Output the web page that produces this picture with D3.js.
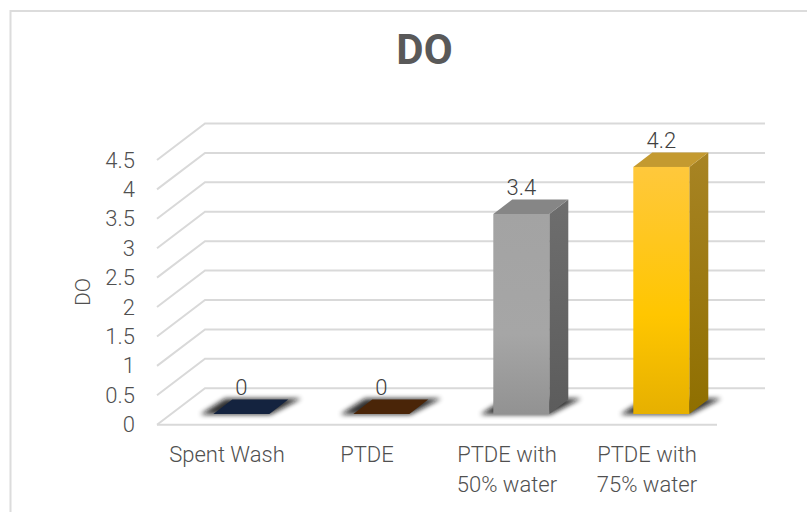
<!DOCTYPE html>
<html>
<head>
<meta charset="utf-8">
<script src="https://cdnjs.cloudflare.com/ajax/libs/d3/7.8.5/d3.min.js"></script>
<style>
    html, body { margin: 0; padding: 0; background: #fff; }
    svg { display: block; }
    text { font-family: Roboto, "Open Sans", sans-serif; font-weight: 300; fill: #505050; }
</style>
</head>
<body>
<svg id="chart" width="807" height="512"></svg>
<script>
const categories = [['Spent Wash'], ['PTDE'], ['PTDE with', '50% water'], ['PTDE with', '75% water']];
const values = [0, 0, 3.4, 4.2];
const yTicks = [0, 0.5, 1, 1.5, 2, 2.5, 3, 3.5, 4, 4.5];
const faceColors = [
    {front: ['#14233f', '#14233f'], side: ['#0e1a30', '#0e1a30'], top: '#14233f'},
    {front: ['#4a2508', '#4a2508'], side: ['#361a05', '#361a05'], top: '#4a2508'},
    {front: ['#a3a3a3', '#a6a6a6', '#929292'], side: ['#6e6e6e', '#5c5c5c'], top: '#868686'},
    {front: ['#ffc83c', '#ffc600', '#e6b000'], side: ['#a88424', '#8f6f00'], top: '#c49a30'}
];

const svg = d3.select('#chart');
const defs = svg.append('defs');

// chart frame
svg.append('path')
    .attr('d', 'M10.5,512V11H807')
    .attr('fill', 'none')
    .attr('stroke', '#dcdcdc')
    .attr('stroke-width', 2);

svg.append('text')
    .attr('x', 424.5)
    .attr('y', 63.5)
    .attr('text-anchor', 'middle')
    .style('font-size', '42px')
    .style('font-weight', 'bold')
    .style('fill', '#595959')
    .text('DO');

// 3d box geometry
const wallDx = 48, wallDy = 36.5;
const barDx = 19, barDy = 14.5;
const barShiftX = 14.3, barShiftY = 10.7;

const x = d3.scaleBand()
    .domain(d3.range(categories.length))
    .range([157, 717])
    .paddingInner(0.6)
    .paddingOuter(0.3);

const y = d3.scaleLinear()
    .domain([0, 4.5])
    .range([424.7, 160]);

// floor and walls
const grid = svg.append('g');
yTicks.forEach(t => {
    grid.append('polyline')
        .attr('points', [
            [x.range()[0], y(t)],
            [x.range()[0] + wallDx, y(t) - wallDy],
            [x.range()[1] + wallDx, y(t) - wallDy]
        ].join(' '))
        .attr('fill', 'none')
        .attr('stroke', '#d9d9d9')
        .attr('stroke-width', 2);
});
grid.append('line')
    .attr('x1', x.range()[0])
    .attr('x2', x.range()[1])
    .attr('y1', y(0))
    .attr('y2', y(0))
    .attr('stroke', '#d9d9d9')
    .attr('stroke-width', 2);

// y axis
const yAxis = d3.axisLeft(y)
    .tickValues(yTicks)
    .tickSize(0)
    .tickPadding(0)
    .tickFormat(d => String(d));

const yAxisG = svg.append('g')
    .attr('transform', 'translate(135,0)')
    .call(yAxis);
yAxisG.select('.domain').remove();
yAxisG.selectAll('text').style('font-size', '22px').attr('dy', '0.32em');

svg.append('text')
    .attr('transform', 'translate(90,292) rotate(-90)')
    .attr('text-anchor', 'middle')
    .style('font-size', '21px')
    .text('DO');

// category labels
categories.forEach((lines, i) => {
    const label = svg.append('text')
        .attr('text-anchor', 'middle')
        .style('font-size', '22px');
    lines.forEach((line, j) => {
        label.append('tspan')
            .attr('x', x(i) + x.bandwidth() / 2)
            .attr('y', 461.5 + j * 30)
            .text(line);
    });
});

defs.append('filter')
    .attr('id', 'shadow-blur')
    .attr('x', '-30%').attr('width', '160%')
    .attr('y', '-60%').attr('height', '220%')
    .append('feGaussianBlur')
    .attr('stdDeviation', 2.8);

function addGradient(id, colors) {
    const g = defs.append('linearGradient')
        .attr('id', id)
        .attr('x1', 0).attr('x2', 0).attr('y1', 0).attr('y2', 1);
    colors.forEach((col, k) => {
        g.append('stop')
            .attr('offset', colors.length === 3 && k === 1 ? 0.6 : k / (colors.length - 1))
            .attr('stop-color', col);
    });
}
faceColors.forEach((c, i) => {
    addGradient('front-' + i, c.front);
    addGradient('side-' + i, c.side);
});

// bars
const poly = pts => pts.join(' ');
const bars = svg.append('g').selectAll('g')
    .data(values)
    .join('g');

bars.each(function(v, i) {
    const g = d3.select(this);
    const x0 = x(i) + barShiftX;
    const x1 = x0 + x.bandwidth();
    const base = y(0) - barShiftY;
    const top = y(v) - barShiftY;
    const c = faceColors[i];

    // floor shadow, clipped at the bar's front edge so it stays on the floor
    g.append('polygon')
        .attr('points', poly([
            [x0 - 13, base + 0.5], [x1 + 1, base + 0.5],
            [x1 + barDx + 13, base - barDy - 1], [x0 + barDx - 7, base - barDy - 1]
        ]))
        .attr('fill', '#111')
        .attr('opacity', 0.85)
        .attr('filter', 'url(#shadow-blur)');

    // faces
    if (v > 0) {
        g.append('polygon')
            .attr('points', poly([[x1, base], [x1 + barDx, base - barDy], [x1 + barDx, top - barDy], [x1, top]]))
            .attr('fill', 'url(#side-' + i + ')');
    }
    g.append('polygon')
        .attr('points', poly([[x0, top], [x1, top], [x1 + barDx, top - barDy], [x0 + barDx, top - barDy]]))
        .attr('fill', c.top);
    if (v > 0) {
        g.append('rect')
            .attr('x', x0)
            .attr('y', top)
            .attr('width', x.bandwidth())
            .attr('height', base - top)
            .attr('fill', 'url(#front-' + i + ')');
    }

    g.append('text')
        .attr('x', x0 + x.bandwidth() / 2)
        .attr('y', top - barDy - 2)
        .attr('dy', '-0.1em')
        .attr('text-anchor', 'middle')
        .style('font-size', '22px')
        .style('fill', '#404040')
        .text(v);
});
</script>
</body>
</html>
